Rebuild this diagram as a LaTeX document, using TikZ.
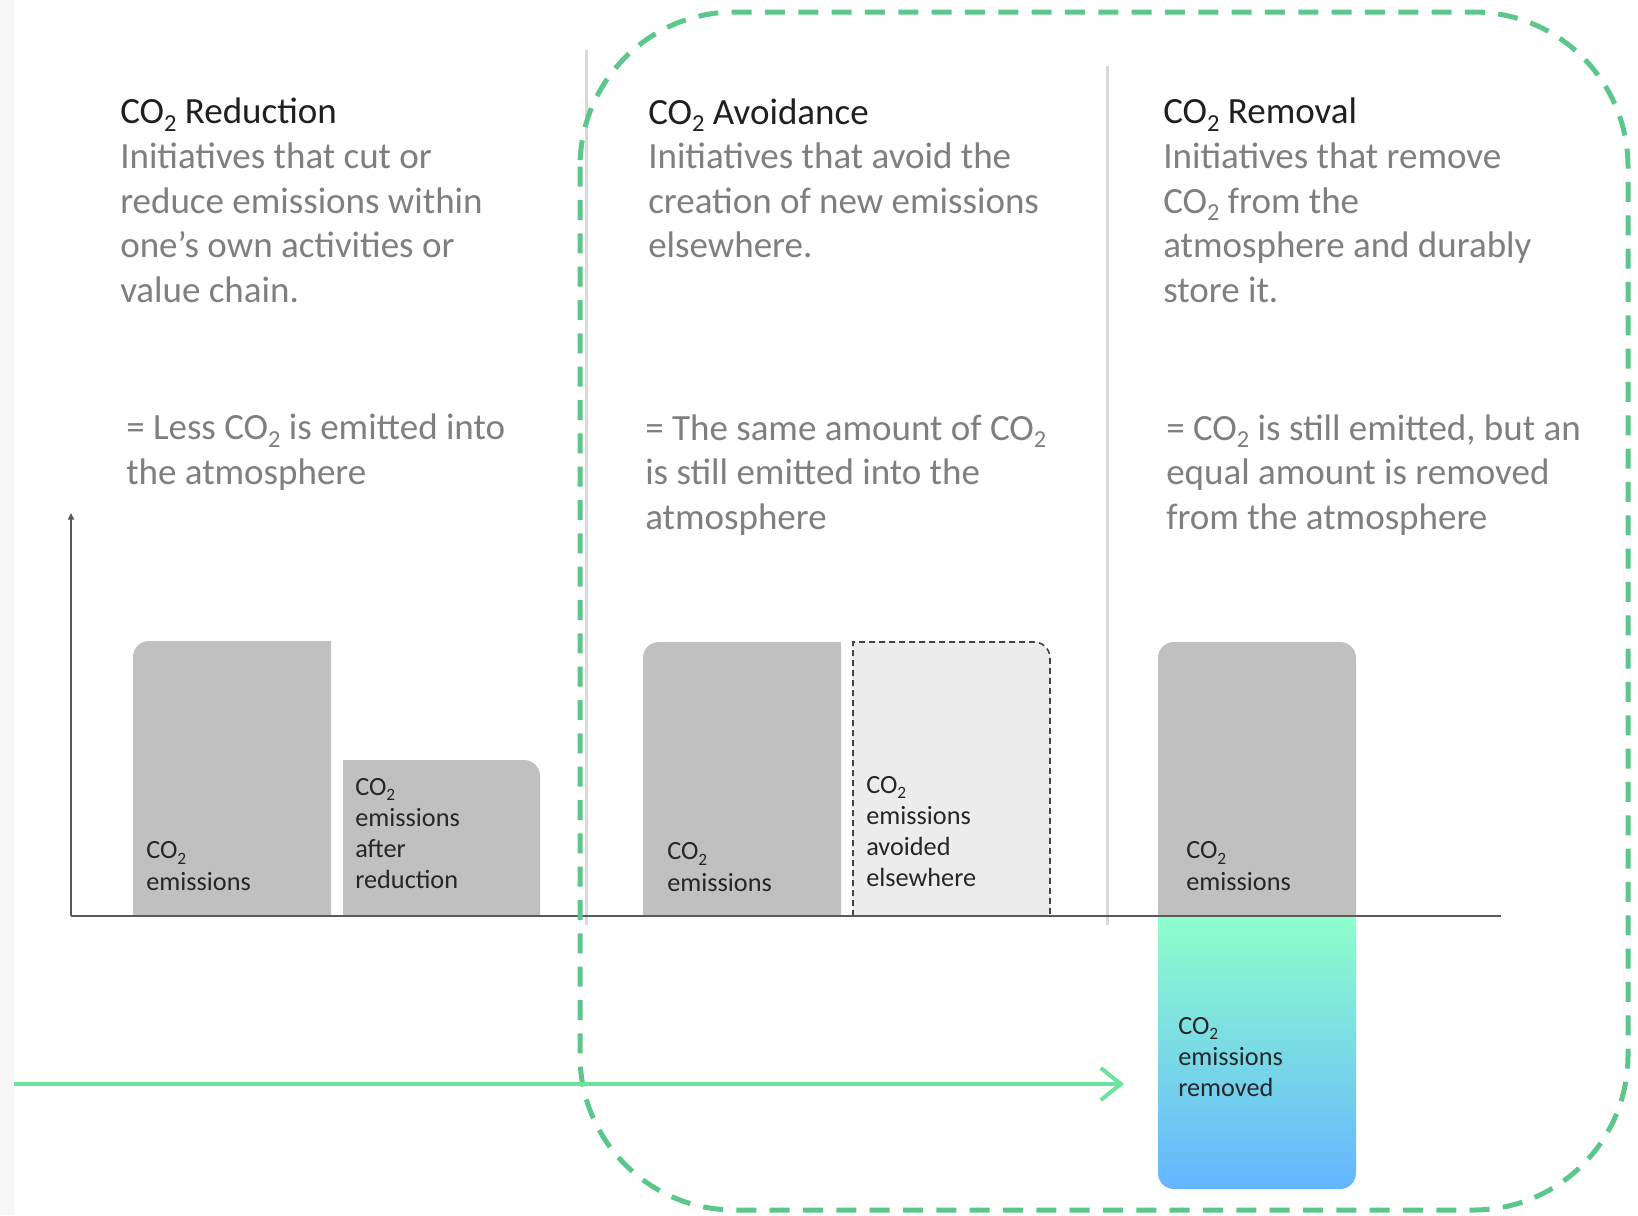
\documentclass[tikz,border=0pt]{standalone}
\usepackage{fontspec}
\setmainfont{Carlito}
\usepackage{graphicx}
\usetikzlibrary{arrows.meta}
\definecolor{titlec}{HTML}{1F1F1F}
\definecolor{bodyc}{HTML}{7F7F7F}
\definecolor{labelc}{HTML}{262626}
\definecolor{barc}{HTML}{C0C0C0}
\definecolor{avoidc}{HTML}{ECECEC}
\definecolor{avoidline}{HTML}{444444}
\definecolor{sepc}{HTML}{D9D9D9}
\definecolor{axisc}{HTML}{595959}
\definecolor{dashgreen}{HTML}{5CC78B}
\definecolor{arrowgreen}{HTML}{6BE39D}
\definecolor{mintc}{HTML}{8EFFCC}
\definecolor{bluec}{HTML}{64B5FF}
\definecolor{stripc}{HTML}{F7F7F7}
\newcommand\cotwo{CO\raisebox{-0.2em}{\scalebox{0.66}{2}}}
\begin{document}
\begin{tikzpicture}[x=0.75pt,y=-0.75pt,
  txt/.style={anchor=base west, align=left, inner sep=0pt, text=bodyc,
    font=\fontsize{27.75pt}{33.4pt}\selectfont},
  lbl/.style={anchor=base west, align=left, inner sep=0pt, text=labelc,
    font=\fontsize{19.7pt}{23.4pt}\selectfont},
  bar/.style={fill=barc},
  sep/.style={draw=sepc, line width=2.25pt},
  axis/.style={draw=axisc, line width=1.5pt},
  zone/.style={draw=dashgreen, line width=3.75pt, dash pattern=on 15pt off 10pt, rounded corners=116pt},
  flow/.style={draw=arrowgreen, line width=3pt, -{Straight Barb[length=15pt,width=24pt]}}
]
\useasboundingbox (0,0) rectangle (1638,1215);
\fill[white] (0,0) rectangle (1638,1215);
\fill[stripc] (0,0) rectangle (14,1215);

% separators
\coordinate (s1t) at (586,50);
\coordinate (s1b) at (586,925);
\coordinate (s2t) at (1107,66);
\coordinate (s2b) at (1107,925);
\draw[sep] (s1t) -- (s1b);
\draw[sep] (s2t) -- (s2b);

% bars
\fill[bar] (133,916) -- (133,657) .. controls (133,648.2) and (139.8,641) .. (149,641) -- (331,641) -- (331,916) -- cycle;
\fill[bar] (343,916) -- (343,760) -- (524,760) .. controls (532.8,760) and (540,767.2) .. (540,776) -- (540,916) -- cycle;
\fill[bar] (643,916) -- (643,658) .. controls (643,649.2) and (649.8,642) .. (659,642) -- (841,642) -- (841,916) -- cycle;
\filldraw[fill=avoidc, draw=avoidline, line width=1.2pt, dash pattern=on 4.5pt off 3pt]
  (853,916) -- (853,642) -- (1034,642) .. controls (1042.8,642) and (1050,649.2) .. (1050,658) -- (1050,916) -- cycle;
\fill[bar] (1158,916) -- (1158,658) .. controls (1158,649.2) and (1164.8,642) .. (1174,642) -- (1340,642) .. controls (1348.8,642) and (1356,649.2) .. (1356,658) -- (1356,916) -- cycle;
\shade[top color=mintc, bottom color=bluec] (1158,916) -- (1356,916) -- (1356,1173) .. controls (1356,1181.8) and (1348.8,1189) .. (1340,1189) -- (1174,1189) .. controls (1165.2,1189) and (1158,1181.8) .. (1158,1173) -- cycle;

% axes
\coordinate (origin) at (71,916);
\coordinate (ytop) at (71,513);
\coordinate (xend) at (1501,916);
\draw[axis, -{Triangle[length=5pt,width=4.5pt]}] (origin) -- (ytop);
\draw[axis] (origin) -- (xend);

% bar labels (anchored at the baseline of the last line)
\node[lbl] (lab1) at (146,890) {\cotwo\\emissions};
\node[lbl] (lab2) at (355,888.6) {\cotwo\\emissions\\after\\reduction};
\node[lbl] (lab3) at (667,891) {\cotwo\\emissions};
\node[lbl] (lab4) at (866,886.6) {\cotwo\\emissions\\avoided\\elsewhere};
\node[lbl] (lab5) at (1186,890) {\cotwo\\emissions};
\node[lbl] (lab6) at (1178,1096.4) {\cotwo\\emissions\\removed};

% column texts (anchored at the baseline of the last line)
\node[txt] (red) at (120,302.1) {{\color{titlec}\cotwo{} Reduction}\\Initiatives that cut or\\reduce emissions within\\one’s own activities or\\value chain.};
\node[txt] (avo) at (648,257.6) {{\color{titlec}\cotwo{} Avoidance}\\Initiatives that avoid the\\creation of new emissions\\elsewhere.};
\node[txt] (rem) at (1163,302.1) {{\color{titlec}\cotwo{} Removal}\\Initiatives that remove\\\cotwo{} from the\\atmosphere and durably\\store it.};
\node[txt] (redeq) at (126,484.5) {= Less \cotwo{} is emitted into\\the atmosphere};
\node[txt] (avoeq) at (645,529.1) {= The same amount of \cotwo\\is still emitted into the\\atmosphere};
\node[txt] (remeq) at (1166,529.1) {= \cotwo{} is still emitted, but an\\equal amount is removed\\from the atmosphere};

% dashed zone
\draw[zone] (580,12) rectangle (1628,1210);

% flow arrow
\coordinate (fstart) at (14,1084);
\coordinate (fend) at (1124,1084);
\draw[flow] (fstart) -- (fend);
\end{tikzpicture}
\end{document}
